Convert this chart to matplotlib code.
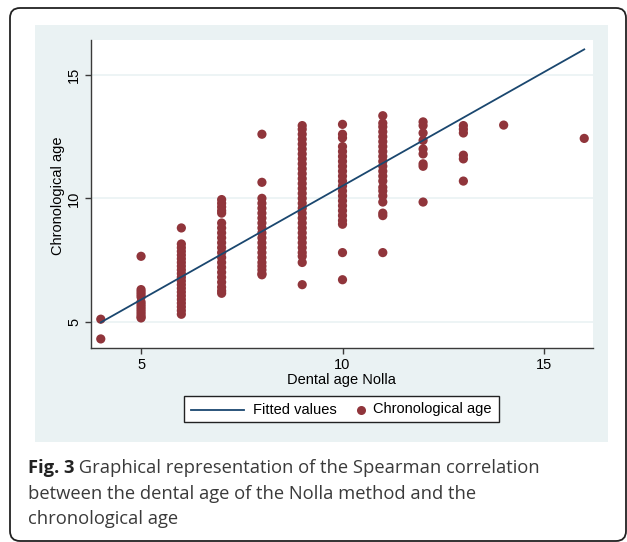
import matplotlib
matplotlib.use("Agg")
import matplotlib.pyplot as plt
from matplotlib.lines import Line2D
from matplotlib.patches import FancyBboxPatch, Rectangle

# ---------------- data ----------------
dental_age = [4, 5, 6, 7, 8, 9, 10, 11, 12, 13, 14, 16]
chrono_age = [
    [5.1, 4.3],
    [7.65, 6.3, 6.2, 6.1, 6.0, 5.8, 5.7, 5.6, 5.5, 5.4, 5.3, 5.2, 5.15],
    [8.8, 8.15, 8.0, 7.85, 7.7, 7.55, 7.4, 7.25, 7.1, 6.95, 6.8, 6.65, 6.5,
     6.35, 6.2, 6.05, 5.9, 5.75, 5.6, 5.45, 5.3],
    [9.95, 9.8, 9.65, 9.5, 9.4, 9.0, 8.8, 8.6, 8.4, 8.2, 8.0, 7.8, 7.6, 7.4,
     7.2, 7.0, 6.8, 6.6, 6.4, 6.25, 6.15],
    [12.6, 10.65, 10.0, 9.8, 9.6, 9.4, 9.2, 9.0, 8.8, 8.6, 8.4, 8.2, 8.0, 7.8,
     7.6, 7.4, 7.25, 7.1, 6.95, 6.9],
    [12.95, 12.8, 12.6, 12.4, 12.2, 12.0, 11.8, 11.6, 11.4, 11.2, 11.0, 10.8,
     10.6, 10.4, 10.2, 10.0, 9.8, 9.6, 9.4, 9.2, 9.0, 8.8, 8.6, 8.4, 8.2, 8.0,
     7.8, 7.65, 7.4, 6.5],
    [13.0, 12.6, 12.45, 12.1, 11.9, 11.7, 11.5, 11.3, 11.1, 10.9, 10.7, 10.5,
     10.3, 10.1, 9.9, 9.7, 9.5, 9.3, 9.1, 8.95, 7.8, 6.7],
    [13.35, 13.05, 12.9, 12.7, 12.5, 12.3, 12.1, 11.9, 11.7, 11.5, 11.3, 11.1,
     10.9, 10.7, 10.45, 10.3, 10.1, 9.85, 9.4, 9.3, 7.8],
    [13.1, 12.95, 12.65, 12.35, 12.0, 11.8, 11.4, 11.3, 9.85],
    [12.95, 12.8, 12.65, 11.75, 11.6, 10.7],
    [12.97],
    [12.43],
]
fit_x = [4, 16]
fit_y = [4.97, 16.04]

x_ticks = [5, 10, 15]
y_ticks = [5, 10, 15]
x_label = "Dental age Nolla"
y_label = "Chronological age"
legend_labels = ["Fitted values", "Chronological age"]
caption_bold = "Fig. 3"
caption_lines = [
    " Graphical representation of the Spearman correlation",
    "between the dental age of the Nolla method and the",
    "chronological age",
]

# ---------------- style ----------------
W, H = 627, 542
NAVY = "#1A476F"
MAROON = "#90353B"
BG = "#EAF2F3"
FONT = "Liberation Sans"
CAP = "Open Sans"

fig = plt.figure(figsize=(W / 100, H / 100), dpi=100)
fig.patch.set_facecolor("white")

def fx(p):
    return p / W

def fy(p):
    return 1 - p / H

# background axes holding frame, graph region and legend
bg = fig.add_axes([0, 0, 1, 1], zorder=-5)
bg.set_xlim(0, W)
bg.set_ylim(H, 0)
bg.axis("off")
bg.add_patch(FancyBboxPatch((10, 8), 616, 533,
                            boxstyle="round,pad=0,rounding_size=10",
                            fill=False, edgecolor="#222222", linewidth=1.3))
bg.add_patch(Rectangle((35, 25), 573, 417, facecolor=BG, edgecolor="none"))

ax = fig.add_axes([fx(90.7), fy(348.3), fx(502), (348.3 - 40) / H], zorder=1)
ax.set_facecolor("white")

xs, ys = [], []
for xv, col in zip(dental_age, chrono_age):
    for yv in col:
        xs.append(xv)
        ys.append(yv)

ax.plot(fit_x, fit_y, color=NAVY, lw=1.3, zorder=3)
ax.scatter(xs, ys, s=44, color=MAROON, edgecolors="none", zorder=2)

ax.set_xlim(3.75, 16.21)
ax.set_ylim(3.92, 16.42)
ax.set_xticks(x_ticks)
ax.set_yticks(y_ticks)
ax.grid(axis="y", color=BG, lw=1.2, zorder=0)
ax.set_axisbelow(True)

for s in ["top", "right"]:
    ax.spines[s].set_visible(False)
for s in ["left", "bottom"]:
    ax.spines[s].set_color("#3a3a3a")
    ax.spines[s].set_linewidth(1.0)

ax.tick_params(axis="both", length=4, width=1.0, color="#3a3a3a",
               labelsize=10.5, pad=3)
for lab in ax.get_xticklabels():
    lab.set_fontfamily(FONT)
for lab in ax.get_yticklabels():
    lab.set_fontfamily(FONT)
    lab.set_rotation(90)
    lab.set_va("center")
    lab.set_ha("right")

bg.text(341.7, 380, x_label, ha="center", va="center",
        fontsize=10.5, family=FONT)
bg.text(58, 196, y_label, ha="center", va="center",
        rotation=90, fontsize=10.5, family=FONT)

# legend (Stata style, drawn in pixel space)
bg.add_patch(Rectangle((184, 396), 315, 26, facecolor="white",
                       edgecolor="#222222", linewidth=1.0))
bg.add_line(Line2D([191, 244], [409.5, 409.5], color=NAVY, lw=1.3))
bg.text(253, 409.5, legend_labels[0], ha="left", va="center",
        fontsize=10.5, family=FONT)
bg.plot([360.7], [409.5], marker="o", color=MAROON, markersize=6.5,
        markeredgewidth=0, ls="none")
bg.text(373, 409.5, legend_labels[1], ha="left", va="center",
        fontsize=10.5, family=FONT)

# caption
CS = 13.2
t = bg.text(28, 468, caption_bold, ha="left", va="center",
            fontsize=CS, family=CAP, weight="bold", color="#222222")
fig.canvas.draw()
bb = t.get_window_extent()
x_after = bb.x1
bg.text(x_after, 468, caption_lines[0], ha="left", va="center",
        fontsize=CS, family=CAP, color="#3a3a3a")
bg.text(28, 494, caption_lines[1], ha="left", va="center",
        fontsize=CS, family=CAP, color="#3a3a3a")
bg.text(28, 519.5, caption_lines[2], ha="left", va="center",
        fontsize=CS, family=CAP, color="#3a3a3a")

fig.savefig("out.png", dpi=100)
